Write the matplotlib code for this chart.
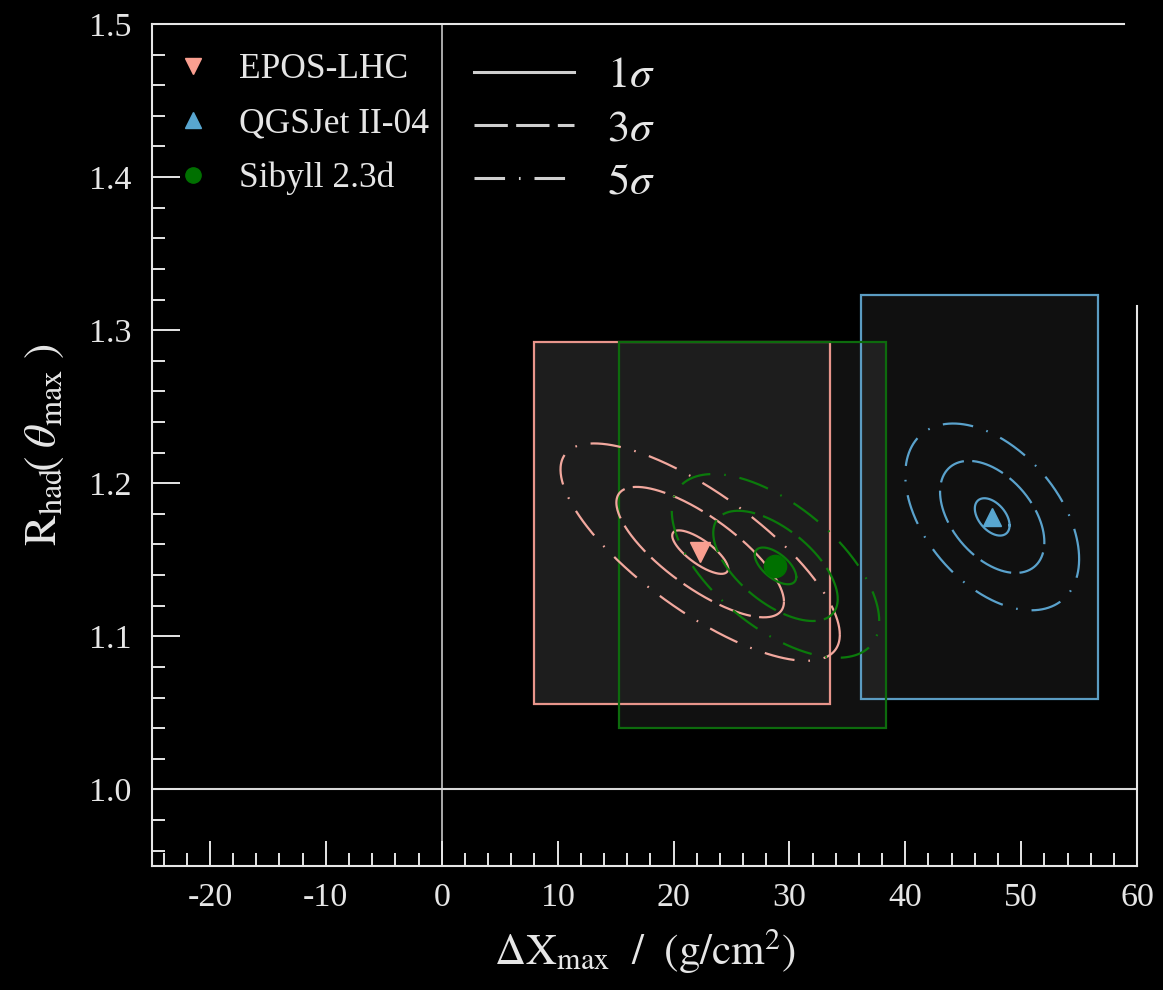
import numpy as np
import matplotlib
matplotlib.use("Agg")
import matplotlib.pyplot as plt
from matplotlib.patches import Rectangle
from matplotlib.lines import Line2D

# ---- data -------------------------------------------------------------
models = ["EPOS-LHC", "QGSJet II-04", "Sibyll 2.3d"]
markers = ["v", "^", "o"]
marker_colors = ["#fa9f90", "#58a6d0", "#007000"]
line_colors = ["#f2a89e", "#5aa2cc", "#0b7a0b"]
edge_colors = ["#e8958b", "#5b9cc2", "#0d6b0d"]

# best-fit point (Delta Xmax [g/cm^2], R_had)
best_dx = [22.3, 47.5, 28.8]
best_r = [1.155, 1.178, 1.146]

# Gaussian approximation of the fit uncertainty
sigma_dx = [2.41, 1.50, 1.79]
sigma_r = [0.0142, 0.0122, 0.0120]
corr = [-0.76, -0.45, -0.60]

# systematic ranges (boxes)
box_dx_lo = [8.0, 36.2, 15.3]
box_dx_hi = [33.5, 56.6, 38.3]
box_r_lo = [1.056, 1.059, 1.040]
box_r_hi = [1.2925, 1.323, 1.292]
box_fill = ["#1d1d1d", "#111111", "#111111"]

sigma_levels = [1, 3, 5]
sigma_labels = [r"$1\sigma$", r"$3\sigma$", r"$5\sigma$"]

# ---- style ------------------------------------------------------------
plt.rcParams["font.family"] = ["Liberation Serif", "DejaVu Serif"]
plt.rcParams["mathtext.fontset"] = "stix"
plt.rcParams["lines.scale_dashes"] = False
plt.rcParams["axes.unicode_minus"] = False
fg = "#e6e6e6"
level_styles = ["-", (0, (24, 6)), (0, (22, 10, 1.2, 10))]

fig = plt.figure(figsize=(11.63, 9.90), dpi=100, facecolor="black")
ax = fig.add_axes([0.1307, 0.1253, 0.8470, 0.8505], facecolor="black")

# boxes: fills first (EPOS fill on top of the Sibyll fill), then outlines
ax.add_patch(Rectangle((box_dx_lo[2], box_r_lo[2]),
                       box_dx_hi[2] - box_dx_lo[2], box_r_hi[2] - box_r_lo[2],
                       facecolor=box_fill[2], edgecolor="none", zorder=1))
ax.add_patch(Rectangle((box_dx_lo[1], box_r_lo[1]),
                       box_dx_hi[1] - box_dx_lo[1], box_r_hi[1] - box_r_lo[1],
                       facecolor="white", alpha=0.065, edgecolor="none", zorder=1.1))
ax.add_patch(Rectangle((box_dx_lo[0], box_r_lo[0]),
                       box_dx_hi[0] - box_dx_lo[0], box_r_hi[0] - box_r_lo[0],
                       facecolor=box_fill[0], edgecolor="none", zorder=1.2))
for i in [0, 1, 2]:
    ax.add_patch(Rectangle((box_dx_lo[i], box_r_lo[i]),
                           box_dx_hi[i] - box_dx_lo[i], box_r_hi[i] - box_r_lo[i],
                           facecolor="none", edgecolor=edge_colors[i],
                           lw=1.6, zorder=2))

# confidence contours
t = np.linspace(0, 2 * np.pi, 400)
for i in range(3):
    for k, ls in zip(sigma_levels, level_styles):
        x = best_dx[i] + k * sigma_dx[i] * np.cos(t)
        y = best_r[i] + k * sigma_r[i] * (corr[i] * np.cos(t)
                                          + np.sqrt(1 - corr[i] ** 2) * np.sin(t))
        ax.plot(x, y, color=line_colors[i], lw=1.6, ls=ls, zorder=3)

# best-fit markers
msizes = [15, 13, 16]
for i in range(3):
    ax.plot(best_dx[i], best_r[i], ls="none", marker=markers[i],
            color=marker_colors[i], ms=msizes[i], zorder=5)

# reference lines
ax.axvline(0, color="#d8d8d8", lw=1.1, zorder=0.5)
ax.axhline(1.0, color="#d8d8d8", lw=1.5, zorder=0.5)

# axes
ax.set_xlim(-25, 60)
ax.set_ylim(0.95, 1.5)
ax.set_xticks(np.arange(-20, 61, 10))
ax.set_xticks(np.arange(-24, 60, 2), minor=True)
ax.set_yticks(np.round(np.arange(1.0, 1.51, 0.1), 2))
ax.set_yticks(np.round(np.arange(0.96, 1.5, 0.02), 2), minor=True)
ax.yaxis.set_major_formatter(matplotlib.ticker.FormatStrFormatter("%.1f"))
ax.tick_params(which="both", direction="in", colors=fg, labelsize=24.5,
               top=False, right=False, width=1.4)
ax.tick_params(axis="x", which="major", length=18, pad=12)
ax.tick_params(axis="x", which="minor", length=9.5)
ax.tick_params(axis="y", which="major", length=20, pad=15)
ax.tick_params(axis="y", which="minor", length=9.5)
for s in ax.spines.values():
    s.set_color(fg)
    s.set_linewidth(1.5)
ax.spines["top"].set_bounds(-25, 58.9)
ax.spines["right"].set_bounds(0.95, 1.316)

ax.set_xlabel(r"$\Delta\mathrm{X}_{\mathrm{max}}\ \ /\ \ (\mathrm{g/cm}^{2})$",
              fontsize=31, color=fg, labelpad=10)
ax.set_ylabel(r"$\mathrm{R}_{\mathrm{had}}\!\left(\;\theta_{\mathrm{max}}\;\right)$",
              fontsize=33, color=fg, labelpad=16)

# legends
model_handles = [Line2D([], [], ls="none", marker=markers[i],
                        color=marker_colors[i], ms=11) for i in range(3)]
leg1 = ax.legend(model_handles, models, loc="upper left",
                 bbox_to_anchor=(0.024, 0.965), frameon=False, fontsize=25.5,
                 handlelength=1.0, handletextpad=0.78, labelspacing=0.6,
                 borderpad=0, borderaxespad=0, labelcolor=fg)
ax.add_artist(leg1)

sig_handles = [Line2D([], [], color="#cfcfcf", lw=2.2, ls=ls)
               for ls in level_styles]
ax.legend(sig_handles, sigma_labels, loc="upper left",
          bbox_to_anchor=(0.3266, 0.962), frameon=False, fontsize=32,
          handlelength=2.25, handletextpad=0.75, labelspacing=0.3,
          borderpad=0, borderaxespad=0, labelcolor=fg)

fig.savefig("out.png", dpi=100, facecolor="black")
